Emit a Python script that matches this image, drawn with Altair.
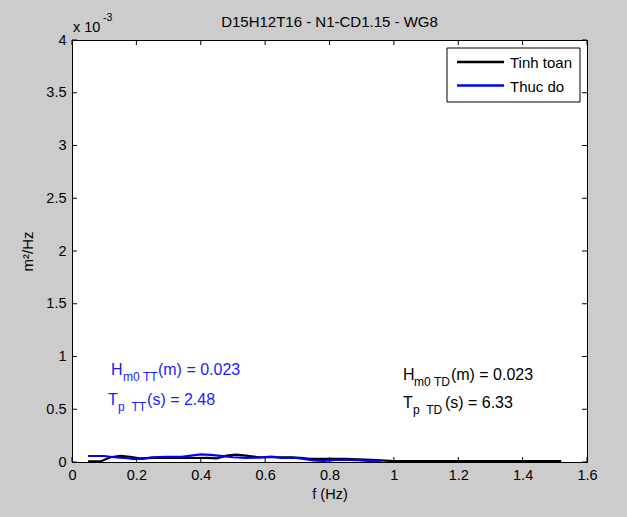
import altair as alt
import pandas as pd

# Spectral density (units of 1e-3 m^2/Hz) against frequency (Hz)
f_tt = [0.05, 0.09, 0.12, 0.15, 0.18, 0.21, 0.25, 0.30, 0.35, 0.38, 0.42, 0.45,
        0.48, 0.51, 0.54, 0.58, 0.63, 0.68, 0.71, 0.74, 0.77, 0.80, 0.85, 0.89,
        0.93, 0.96, 1.00, 1.20, 1.40, 1.52]
s_tt = [0.007, 0.007, 0.045, 0.058, 0.050, 0.035, 0.040, 0.040, 0.040, 0.038, 0.040, 0.035,
        0.060, 0.070, 0.060, 0.045, 0.045, 0.045, 0.040, 0.030, 0.030, 0.030, 0.030, 0.025,
        0.020, 0.015, 0.008, 0.008, 0.008, 0.008]

f_td = [0.05, 0.10, 0.13, 0.16, 0.19, 0.22, 0.25, 0.29, 0.34, 0.37, 0.40, 0.43,
        0.47, 0.50, 0.54, 0.58, 0.62, 0.65, 0.69, 0.72, 0.75, 0.78, 0.82, 0.86,
        0.89, 0.92, 0.96]
s_td = [0.057, 0.057, 0.045, 0.040, 0.030, 0.030, 0.045, 0.050, 0.050, 0.060, 0.072, 0.068,
        0.055, 0.045, 0.040, 0.042, 0.050, 0.040, 0.040, 0.030, 0.015, 0.010, 0.020, 0.020,
        0.018, 0.010, 0.010]

series_names = ["Tinh toan", "Thuc do"]
series_colors = ["#000000", "#0000ff"]

x_ticks = [0, 0.2, 0.4, 0.6, 0.8, 1.0, 1.2, 1.4, 1.6]
y_ticks = [0, 0.5, 1, 1.5, 2, 2.5, 3, 3.5, 4]

TITLE = "D15H12T16 - N1-CD1.15 - WG8"
FONT = "Liberation Sans"
W, H = 515, 422
NB = "\u00a0"

df = pd.concat([
    pd.DataFrame({"f": f_tt, "S": s_tt, "series": series_names[0], "order": 0}),
    pd.DataFrame({"f": f_td, "S": s_td, "series": series_names[1], "order": 1}),
])

x_scale = alt.Scale(domain=[0, 1.6], nice=False, zero=False)
y_scale = alt.Scale(domain=[0, 4], nice=False, zero=False)

x_axis = alt.Axis(values=x_ticks, ticks=False, domain=False, grid=False,
                  labelFont=FONT, labelFontSize=14.5, labelColor="#000", labelPadding=6,
                  labelFlush=False, labelExpr="format(datum.value, '~g')",
                  title="f (Hz)", titleFont=FONT, titleFontSize=14.5, titleFontWeight="normal",
                  titleColor="#000", titlePadding=6)
y_axis = alt.Axis(values=y_ticks, ticks=False, domain=False, grid=False,
                  labelFont=FONT, labelFontSize=14.5, labelColor="#000", labelPadding=6,
                  labelFlush=False, labelExpr="format(datum.value, '~g')",
                  title="m²/Hz", titleFont=FONT, titleFontSize=15, titleFontWeight="normal",
                  titleColor="#000", titlePadding=10)

lines = alt.Chart(df).mark_line(strokeWidth=2.2).encode(
    x=alt.X("f:Q", scale=x_scale, axis=x_axis),
    y=alt.Y("S:Q", scale=y_scale, axis=y_axis),
    color=alt.Color("series:N",
                    scale=alt.Scale(domain=series_names, range=series_colors),
                    legend=None),
    order="order:Q",
)

# inward ticks on all four sides of the box
xt = pd.DataFrame({"t": x_ticks})
yt = pd.DataFrame({"t": y_ticks})
tick_bottom = alt.Chart(xt).mark_rule(color="#000", strokeWidth=1).encode(
    x=alt.X("t:Q", scale=x_scale), y=alt.value(H), y2=alt.value(H - 5))
tick_top = alt.Chart(xt).mark_rule(color="#000", strokeWidth=1).encode(
    x=alt.X("t:Q", scale=x_scale), y=alt.value(0), y2=alt.value(5))
tick_left = alt.Chart(yt).mark_rule(color="#000", strokeWidth=1).encode(
    y=alt.Y("t:Q", scale=y_scale), x=alt.value(0), x2=alt.value(5))
tick_right = alt.Chart(yt).mark_rule(color="#000", strokeWidth=1).encode(
    y=alt.Y("t:Q", scale=y_scale), x=alt.value(W), x2=alt.value(W - 5))

# plot title, centred over the box
title_mark = alt.Chart().mark_text(font=FONT, fontSize=15, align="center",
                                   baseline="alphabetic", color="#000", dy=-13).encode(
    x=alt.datum(0.8), y=alt.datum(4), text=alt.value(TITLE))

# exponent marker above the y axis
exp_base = alt.Chart().mark_text(font=FONT, fontSize=14.5, align="left", baseline="alphabetic",
                                 color="#000", dx=1, dy=-8).encode(
    x=alt.datum(0), y=alt.datum(4), text=alt.value("x 10"))
exp_pow = alt.Chart().mark_text(font=FONT, fontSize=10.5, align="left", baseline="alphabetic",
                                color="#000", dx=31, dy=-19).encode(
    x=alt.datum(0), y=alt.datum(4), text=alt.value("-3"))

# legend box in the upper right corner
LX0, LX1, LY0, LY1 = 375, 508, 8, 62
leg_box = alt.Chart().mark_rect(fill="white", stroke="#000", strokeWidth=1).encode(
    x=alt.value(LX0), x2=alt.value(LX1), y=alt.value(LY0), y2=alt.value(LY1))
leg_items = []
for name, col, yy in zip(series_names, series_colors, [22, 45.5]):
    leg_items.append(alt.Chart().mark_rule(color=col, strokeWidth=2.5).encode(
        x=alt.value(LX0 + 10), x2=alt.value(LX0 + 57), y=alt.value(yy)))
    leg_items.append(alt.Chart().mark_text(font=FONT, fontSize=15, align="left",
                                           baseline="middle", color="#000").encode(
        x=alt.value(LX0 + 63), y=alt.value(yy + 1), text=alt.value(name)))


def label(fx, sy, parts, color):
    """Text with a subscript part: parts are (text, dx, dy, size)."""
    layers = []
    for txt, dx, dy, size in parts:
        layers.append(alt.Chart().mark_text(font=FONT, fontSize=size, align="left",
                                            baseline="alphabetic", color=color,
                                            dx=dx, dy=dy).encode(
            x=alt.datum(fx), y=alt.datum(sy), text=alt.value(txt)))
    return layers


BLUE_TXT = "#1a1aff"
ann = []
ann += label(0.121, 0.825, [("H", 0, 0, 16), ("m0" + NB + "TT", 12, 6, 12), ("(m) = 0.023", 47, 0, 16)], BLUE_TXT)
ann += label(0.112, 0.540, [("T", 0, 0, 16), ("p" + NB + NB + "TT", 10, 6, 12), ("(s) = 2.48", 39, 0, 16)], BLUE_TXT)
ann += label(1.028, 0.777, [("H", 0, 0, 16), ("m0" + NB + "TD", 11, 6, 12), ("(m) = 0.023", 48, 0, 16)], "#000")
ann += label(1.028, 0.512, [("T", 0, 0, 16), ("p" + NB + NB + "TD", 10, 6, 12), ("(s) = 6.33", 42, 0, 16)], "#000")

chart = alt.layer(
    lines, tick_bottom, tick_top, tick_left, tick_right, title_mark, exp_base, exp_pow,
    leg_box, *leg_items, *ann
).properties(
    width=W, height=H,
    autosize=alt.AutoSizeParams(type="none"),
    padding={"left": 72, "top": 40, "right": 40, "bottom": 55},
    background="#cccccc",
).configure_view(
    fill="white", stroke="#000", strokeWidth=1
)

chart.save("out.html", embed_options={"renderer": "svg", "actions": False})
